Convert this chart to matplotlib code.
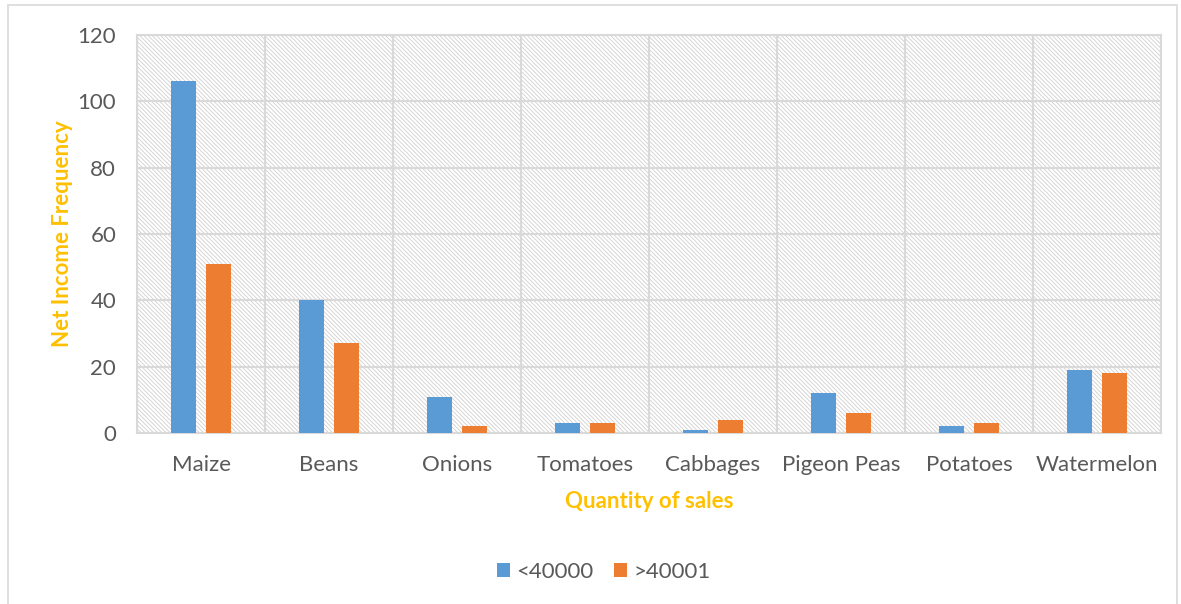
import numpy as np
import matplotlib.pyplot as plt
from matplotlib.patches import Rectangle

crops = ["Maize", "Beans", "Onions", "Tomatoes", "Cabbages", "Pigeon Peas", "Potatoes", "Watermelon"]
below_40000 = [106, 40, 11, 3, 1, 12, 2, 19]
above_40001 = [51, 27, 2, 3, 4, 6, 3, 18]
series_names = ["<40000", ">40001"]

blue = "#5B9BD5"
orange = "#ED7D31"
grid_grey = "#D9D9D9"
text_grey = "#595959"
label_gold = "#FFC000"

plt.rcParams["font.family"] = ["Lato", "DejaVu Sans"]
plt.rcParams["hatch.color"] = "#C8C8C8"
plt.rcParams["hatch.linewidth"] = 0.6

fig = plt.figure(figsize=(11.81, 6.04), dpi=100)
ax = fig.add_axes([137 / 1181, 1 - 433 / 604, 1024 / 1181, 398 / 604])

# outer chart border
fig.patches.append(Rectangle((8 / 1181, -0.01), 1169 / 1181, 1 - 5 / 604 + 0.01,
                             transform=fig.transFigure, fill=False,
                             edgecolor=grid_grey, linewidth=1.2))

x = np.arange(len(crops))
w = 0.195
off = 0.14

# hatched plot background
ax.add_patch(Rectangle((0, 0), 1, 1, transform=ax.transAxes, facecolor="white",
                       hatch="\\\\\\\\\\\\\\\\", edgecolor="#CFCFCF", linewidth=0, zorder=0))

ax.bar(x - off, below_40000, w, color=blue, label=series_names[0], zorder=3)
ax.bar(x + off, above_40001, w, color=orange, label=series_names[1], zorder=3)

ax.set_xlim(-0.5, len(crops) - 0.5)
ax.set_ylim(0, 120)
ax.set_yticks(np.arange(0, 121, 20))
ax.set_xticks(x)
ax.set_xticklabels(crops)
ax.set_xticks(np.arange(-0.5, len(crops)), minor=True)

ax.grid(axis="y", which="major", color=grid_grey, linewidth=1.5, zorder=1)
ax.grid(axis="x", which="minor", color=grid_grey, linewidth=1.5, zorder=1)
ax.set_axisbelow(True)

for s in ax.spines.values():
    s.set_color(grid_grey)
    s.set_linewidth(1.5)

ax.tick_params(axis="both", which="both", length=0, labelsize=16, colors=text_grey)
ax.tick_params(axis="x", pad=16)
ax.tick_params(axis="y", pad=15)

ax.set_xlabel("Quantity of sales", color=label_gold, fontsize=16, fontweight="bold", labelpad=11)
ax.set_ylabel("Net Income Frequency", color=label_gold, fontsize=16, fontweight="bold", labelpad=3)

leg = fig.legend(loc="center", bbox_to_anchor=(604 / 1181, 1 - 572 / 604), ncol=2,
                 frameon=False, fontsize=16, handlelength=0.6, handleheight=0.6,
                 handletextpad=0.3, columnspacing=0.9)
for t in leg.get_texts():
    t.set_color(text_grey)

fig.savefig("out.png", dpi=100)
